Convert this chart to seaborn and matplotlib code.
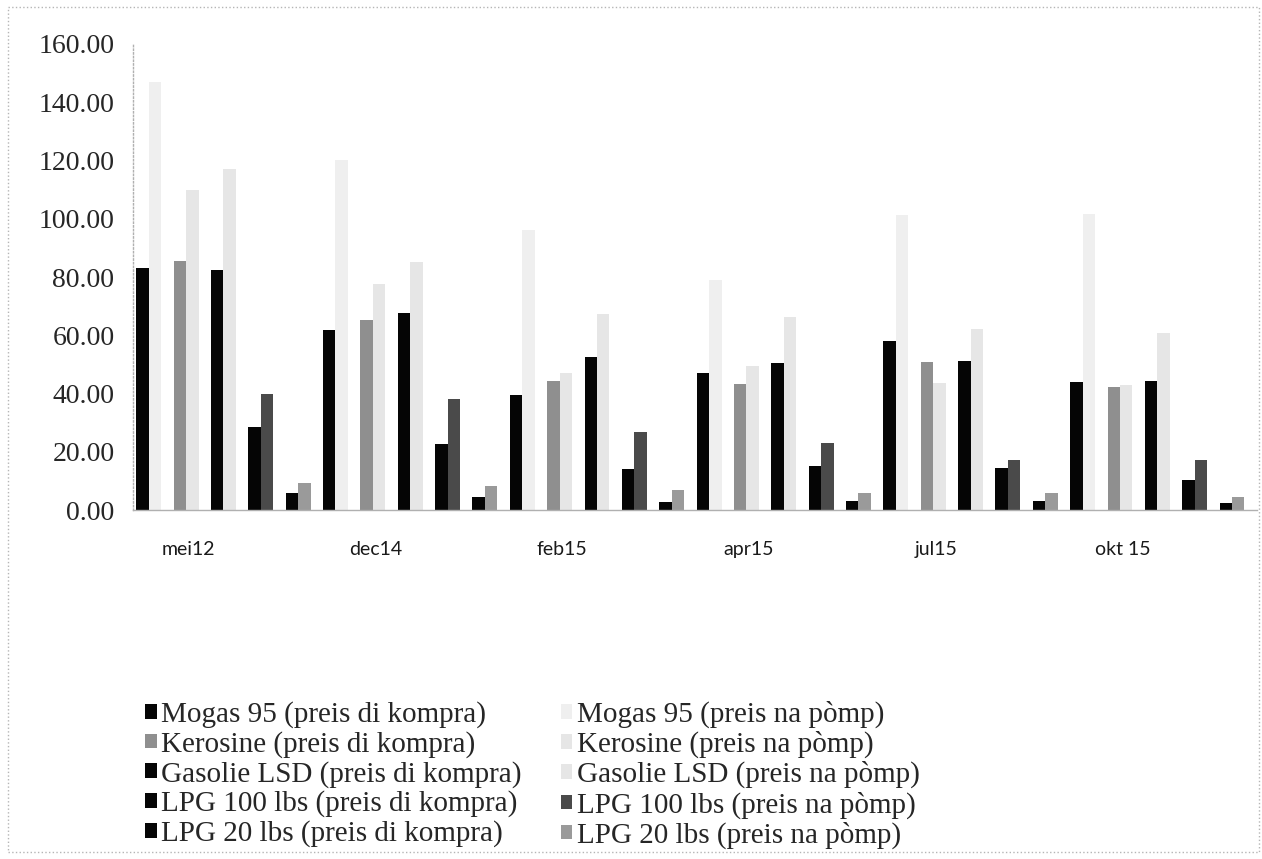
import numpy as np
import pandas as pd
import matplotlib
matplotlib.use("Agg")
import matplotlib.pyplot as plt
import seaborn as sns
from matplotlib.patches import Patch, Rectangle

# data
months = ["mei12", "dec14", "feb15", "apr15", "jul15", "okt 15"]

mogas_kompra = [83.2, 62.0, 39.7, 47.2, 58.2, 44.0]
mogas_pomp = [147.0, 120.0, 96.0, 79.0, 101.4, 101.7]
kerosine_kompra = [85.5, 65.2, 44.5, 43.3, 51.0, 42.3]
kerosine_pomp = [110.0, 77.7, 47.0, 49.4, 43.7, 43.1]
gasolie_kompra = [82.5, 67.5, 52.6, 50.6, 51.2, 44.5]
gasolie_pomp = [117.0, 85.0, 67.3, 66.2, 62.2, 60.9]
lpg100_kompra = [28.5, 22.7, 14.1, 15.2, 14.6, 10.5]
lpg100_pomp = [40.0, 38.3, 26.8, 22.9, 17.3, 17.3]
lpg20_kompra = [6.0, 4.5, 3.0, 3.3, 3.3, 2.5]
lpg20_pomp = [9.2, 8.4, 6.8, 6.0, 6.0, 4.5]

series = {
    "Mogas 95 (preis di kompra)": mogas_kompra,
    "Mogas 95 (preis na pòmp)": mogas_pomp,
    "Kerosine (preis di kompra)": kerosine_kompra,
    "Kerosine (preis na pòmp)": kerosine_pomp,
    "Gasolie LSD (preis di kompra)": gasolie_kompra,
    "Gasolie LSD (preis na pòmp)": gasolie_pomp,
    "LPG 100 lbs (preis di kompra)": lpg100_kompra,
    "LPG 100 lbs (preis na pòmp)": lpg100_pomp,
    "LPG 20 lbs (preis di kompra)": lpg20_kompra,
    "LPG 20 lbs (preis na pòmp)": lpg20_pomp,
}

colors = {
    "Mogas 95 (preis di kompra)": "#050505",
    "Mogas 95 (preis na pòmp)": "#efefef",
    "Kerosine (preis di kompra)": "#8f8f8f",
    "Kerosine (preis na pòmp)": "#e6e6e6",
    "Gasolie LSD (preis di kompra)": "#050505",
    "Gasolie LSD (preis na pòmp)": "#e6e6e6",
    "LPG 100 lbs (preis di kompra)": "#050505",
    "LPG 100 lbs (preis na pòmp)": "#4a4a4a",
    "LPG 20 lbs (preis di kompra)": "#050505",
    "LPG 20 lbs (preis na pòmp)": "#9a9a9a",
}

names = list(series.keys())
# an empty slot after every pair, like the spacing in the original
hue_order = []
for i in range(0, 10, 2):
    hue_order += [names[i], names[i + 1], " " * (i // 2 + 1)]
palette = {h: colors.get(h, "white") for h in hue_order}

rows = []
for name, vals in series.items():
    for m, v in zip(months, vals):
        rows.append({"month": m, "series": name, "value": v})
df = pd.DataFrame(rows)

sns.set_style("white")
plt.rcParams["font.family"] = ["Liberation Serif", "DejaVu Serif"]

fig = plt.figure(figsize=(12.62, 8.59), dpi=100)
ax = fig.add_axes([0.105, 0.406, 0.891, 0.543])

sns.barplot(data=df, x="month", y="value", hue="series", hue_order=hue_order,
            palette=palette, width=1.0, gap=0, saturation=1, legend=False,
            errorbar=None, ax=ax, linewidth=0)

ax.set_xlim(-0.52, 5.5)
ax.set_ylim(0, 160)
ax.set_yticks(np.arange(0, 161, 20))
ax.set_yticklabels([f"{v:.2f}" for v in np.arange(0, 161, 20)], fontsize=20)
ax.set_xticks(np.arange(len(months)) - 0.22)
ax.set_xticklabels(months, fontsize=14, family=["Lato", "DejaVu Sans"], color="#1a1a1a")
ax.tick_params(axis="y", length=0, pad=13)
ax.tick_params(axis="x", length=0, pad=22)
ax.set_xlabel("")
ax.set_ylabel("")

for side in ["top", "right"]:
    ax.spines[side].set_visible(False)
ax.spines["left"].set_color("#b0b0b0")
ax.spines["left"].set_linestyle(":")
ax.spines["left"].set_linewidth(1)
ax.spines["bottom"].set_color("#b0b0b0")
ax.spines["bottom"].set_linewidth(1)

# legend: kompra column on the left, pòmp column on the right
order = names[0::2] + names[1::2]
handles = [Patch(facecolor=colors[n], edgecolor="none", label=n) for n in order]
leg = fig.legend(handles=handles, labels=order, ncol=2, loc="upper left",
                 bbox_to_anchor=(0.094, 0.215), frameon=False,
                 fontsize=21, handlelength=0.4, handleheight=0.4,
                 handletextpad=0.15, columnspacing=1.35, labelspacing=0.1)

# chart border
fig.patches.append(Rectangle((0.006, 0.008), 0.992, 0.984, transform=fig.transFigure,
                             fill=False, edgecolor="#b5b5b5", linestyle=":", linewidth=1))

fig.savefig("out.png", dpi=100)
